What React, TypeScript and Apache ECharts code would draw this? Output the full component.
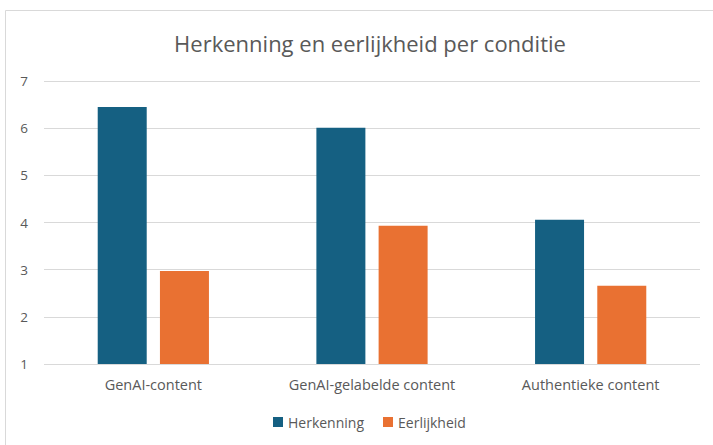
import React, { useEffect, useRef } from "react";
import * as echarts from "echarts";

const categories = ["GenAI-content", "GenAI-gelabelde content", "Authentieke content"];
const herkenning = [6.45, 6.01, 4.06];
const eerlijkheid = [2.97, 3.93, 2.66];
const seriesNames = ["Herkenning", "Eerlijkheid"];
const titleText = "Herkenning en eerlijkheid per conditie";

const FONT = "'Open Sans', 'Noto Sans', sans-serif";

export default function App() {
  const ref = useRef<HTMLDivElement>(null);
  useEffect(() => {
    document.body.style.margin = "0";
    const chart = echarts.init(ref.current!, null, { renderer: "svg" });
    chart.setOption({
      animation: false,
      backgroundColor: "#ffffff",
      title: {
        text: titleText,
        left: 365,
        textAlign: "center",
        top: 27,
        textStyle: { color: "#595959", fontSize: 22, fontWeight: "normal", fontFamily: FONT },
      },
      graphic: [
        {
          type: "rect",
          shape: { x: 5.5, y: 10.5, width: 740, height: 460 },
          style: { fill: "none", stroke: "#d9d9d9", lineWidth: 1 },
          silent: true,
        },
      ],
      legend: {
        data: seriesNames,
        bottom: 11,
        left: 268,
        itemWidth: 10,
        itemHeight: 10,
        itemGap: 19,
        icon: "rect",
        textStyle: { color: "#595959", fontSize: 14, fontFamily: FONT },
      },
      grid: { left: 44, right: 13, top: 81, bottom: 81 },
      xAxis: {
        type: "category",
        data: categories,
        axisLine: { show: false },
        axisTick: { show: false },
        axisLabel: { color: "#595959", fontSize: 14.5, fontFamily: FONT, margin: 13 },
      },
      yAxis: {
        type: "value",
        min: 1,
        max: 7,
        interval: 1,
        axisLine: { show: false },
        axisTick: { show: false },
        axisLabel: { color: "#595959", fontSize: 13.5, fontFamily: FONT, margin: 16 },
        splitLine: { lineStyle: { color: "#d9d9d9", width: 1 } },
      },
      series: [
        {
          name: seriesNames[0],
          type: "bar",
          data: herkenning,
          barWidth: 49,
          barGap: "27%",
          itemStyle: { color: "#156082" },
        },
        {
          name: seriesNames[1],
          type: "bar",
          data: eerlijkheid,
          barWidth: 49,
          barGap: "27%",
          itemStyle: { color: "#E97132" },
        },
      ],
    });
    return () => chart.dispose();
  }, []);
  return <div ref={ref} style={{ width: 713, height: 445 }} />;
}
